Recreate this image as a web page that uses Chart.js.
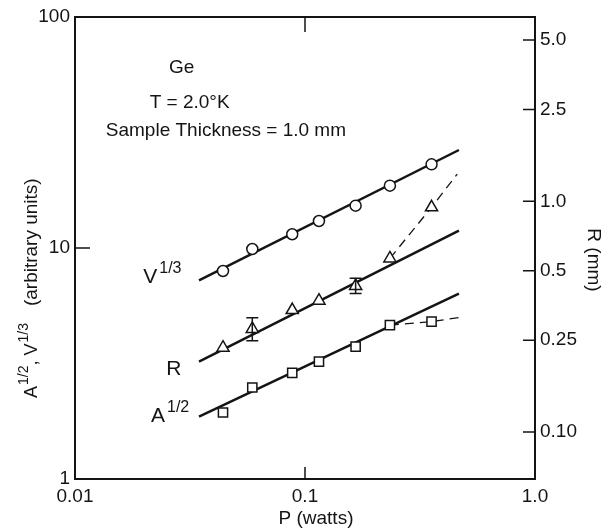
<!DOCTYPE html>
<html lang="en">
<head>
    <title>Ge - A^1/2, V^1/3 and R versus P</title>
    <meta charset="UTF-8">
    <script src="https://cdn.jsdelivr.net/npm/chart.js"></script>
    <style>
        body {
            margin: 0;
            padding: 0;
            background-color: #fff;
        }
        .chart-box {
            width: 602px;
            height: 529px;
        }
    </style>
</head>
<body>
    <div class="chart-box"><canvas id="plot" width="602" height="529"></canvas></div>

    <script>
        // P (watts), shared by the three measured series
        const power = [0.044, 0.059, 0.088, 0.115, 0.166, 0.234, 0.355];
        const vCubeRoot = [7.95, 9.9, 11.47, 13.09, 15.25, 18.61, 23.03];
        const aSqrt = [1.94, 2.49, 2.88, 3.22, 3.74, 4.64, 4.80];
        const radiusMm = [0.232, 0.280, 0.338, 0.371, 0.430, 0.566, 0.942];
        // error bars on R (mm), only two points have them
        const radiusErrLow = [null, 0.249, null, null, 0.399, null, null];
        const radiusErrHigh = [null, 0.313, null, null, 0.464, null, null];

        // straight fits, end points only
        const fitPower = [0.0346, 0.467];
        const vFit = [7.24, 26.56];
        const rFit = [0.2022, 0.746];
        const aFit = [1.86, 6.34];

        // dashed departures at high power
        const rBendPower = [0.234, 0.355, 0.459];
        const rBend = [0.566, 0.942, 1.313];
        const aBendPower = [0.234, 0.355, 0.493];
        const aBend = [4.64, 4.80, 5.04];

        // axes
        const powerTicks = [0.01, 0.1, 1];
        const powerTickLabels = ["0.01", "0.1", "1.0"];
        const leftTicks = [1, 10, 100];
        const leftTickLabels = ["1", "10", "100"];
        const rightTicks = [0.1, 0.25, 0.5, 1, 2.5, 5];
        const rightTickLabels = ["0.10", "0.25", "0.5", "1.0", "2.5", "5.0"];

        const FONT = "'Liberation Sans', Arial, sans-serif";
        const INK = "#141414";

        function pts(xs, ys) {
            return xs.map((x, i) => ({ x: x, y: ys[i] }));
        }

        // text placed in data space: [P, left-axis value]
        const notes = [
            { text: "Ge", p: 0.0291, v: 57.2 },
            { text: "T = 2.0°K", p: 0.0315, v: 40.4 },
            { text: "Sample Thickness = 1.0 mm", p: 0.0453, v: 30.5 }
        ];
        const seriesNames = [
            { base: "V", sup: "1/3", p: 0.0198, v: 7.06 },
            { base: "R", sup: "", p: 0.0249, v: 2.82 },
            { base: "A", sup: "1/2", p: 0.0214, v: 1.765 }
        ];

        function drawRuns(ctx, runs, x, y) {
            let cx = x;
            runs.forEach(r => {
                ctx.font = r.size + "px " + FONT;
                ctx.fillText(r.text, cx, y - (r.rise || 0));
                cx += ctx.measureText(r.text).width + (r.gap || 0);
            });
        }

        const decorations = {
            id: "decorations",
            afterDraw(chart) {
                const { ctx, chartArea: a, scales } = chart;
                ctx.save();
                ctx.strokeStyle = INK;
                ctx.fillStyle = INK;

                // inward tick marks
                ctx.lineWidth = 1.5;
                ctx.beginPath();
                powerTicks.slice(1, -1).forEach(v => {
                    const x = scales.x.getPixelForValue(v);
                    ctx.moveTo(x, a.bottom); ctx.lineTo(x, a.bottom - 12);
                    ctx.moveTo(x, a.top); ctx.lineTo(x, a.top + 15);
                });
                leftTicks.slice(1, -1).forEach(v => {
                    const y = scales.y.getPixelForValue(v);
                    ctx.moveTo(a.left, y); ctx.lineTo(a.left + 15, y);
                });
                rightTicks.forEach(v => {
                    const y = scales.yR.getPixelForValue(v);
                    ctx.moveTo(a.right, y); ctx.lineTo(a.right - 12, y);
                });
                ctx.stroke();

                // error bars on R
                ctx.lineWidth = 1.5;
                ctx.beginPath();
                power.forEach((p, i) => {
                    if (radiusErrLow[i] == null) return;
                    const x = scales.x.getPixelForValue(p);
                    const y1 = scales.yR.getPixelForValue(radiusErrLow[i]);
                    const y2 = scales.yR.getPixelForValue(radiusErrHigh[i]);
                    ctx.moveTo(x, y1); ctx.lineTo(x, y2);
                    ctx.moveTo(x - 6, y1); ctx.lineTo(x + 6, y1);
                    ctx.moveTo(x - 6, y2); ctx.lineTo(x + 6, y2);
                });
                ctx.stroke();

                // notes
                ctx.textAlign = "center";
                ctx.textBaseline = "alphabetic";
                ctx.font = "19px " + FONT;
                notes.forEach(n => {
                    ctx.fillText(n.text, scales.x.getPixelForValue(n.p), scales.y.getPixelForValue(n.v));
                });

                // series names with superscripts
                ctx.textAlign = "left";
                seriesNames.forEach(s => {
                    drawRuns(ctx, [
                        { text: s.base, size: 21, gap: 2 },
                        { text: s.sup, size: 16, rise: 10 }
                    ], scales.x.getPixelForValue(s.p), scales.y.getPixelForValue(s.v));
                });

                // axis titles
                ctx.font = "19px " + FONT;
                ctx.textAlign = "center";
                ctx.fillText("P (watts)", 316, 524);

                ctx.save();
                ctx.translate(588, 260);
                ctx.rotate(Math.PI / 2);
                ctx.fillText("R (mm)", 0, 0);
                ctx.restore();

                ctx.save();
                ctx.translate(37, 398);
                ctx.rotate(-Math.PI / 2);
                ctx.textAlign = "left";
                drawRuns(ctx, [
                    { text: "A", size: 18, gap: 1 },
                    { text: "1/2", size: 14, rise: 9 },
                    { text: ", ", size: 18 },
                    { text: "V", size: 18, gap: 1 },
                    { text: "1/3", size: 14, rise: 9, gap: 17 },
                    { text: "(arbitrary units)", size: 19 }
                ], 0, 0);
                ctx.restore();

                ctx.restore();
            }
        };

        const hidden = { display: false, drawTicks: false };
        const edge = { display: true, color: INK, width: 2 };
        const tickFont = { family: FONT, size: 19 };

        new Chart(document.getElementById("plot"), {
            type: "scatter",
            data: {
                datasets: [
                    {
                        label: "V^1/3", data: pts(power, vCubeRoot), yAxisID: "y",
                        pointStyle: "circle", pointRadius: 5.5, borderColor: INK,
                        backgroundColor: "#fff", borderWidth: 1.5
                    },
                    {
                        label: "R", data: pts(power, radiusMm), yAxisID: "yR",
                        pointStyle: "triangle", pointRadius: 7, borderColor: INK,
                        backgroundColor: "#fff", borderWidth: 1.5
                    },
                    {
                        label: "A^1/2", data: pts(power, aSqrt), yAxisID: "y",
                        pointStyle: "rect", pointRadius: 6.5, borderColor: INK,
                        backgroundColor: "#fff", borderWidth: 1.5
                    },
                    {
                        label: "V fit", data: pts(fitPower, vFit), yAxisID: "y",
                        showLine: true, pointRadius: 0, borderColor: INK, borderWidth: 2.5
                    },
                    {
                        label: "R fit", data: pts(fitPower, rFit), yAxisID: "yR",
                        showLine: true, pointRadius: 0, borderColor: INK, borderWidth: 2.5
                    },
                    {
                        label: "A fit", data: pts(fitPower, aFit), yAxisID: "y",
                        showLine: true, pointRadius: 0, borderColor: INK, borderWidth: 2.5
                    },
                    {
                        label: "R bend", data: pts(rBendPower, rBend), yAxisID: "yR",
                        showLine: true, pointRadius: 0, borderColor: INK, borderWidth: 1.3,
                        borderDash: [9, 6]
                    },
                    {
                        label: "A bend", data: pts(aBendPower, aBend), yAxisID: "y",
                        showLine: true, pointRadius: 0, borderColor: INK, borderWidth: 1.3,
                        borderDash: [9, 6]
                    }
                ]
            },
            options: {
                responsive: false,
                animation: false,
                devicePixelRatio: 1,
                layout: { padding: 0 },
                plugins: {
                    legend: { display: false },
                    tooltip: { enabled: false }
                },
                scales: {
                    x: {
                        type: "logarithmic", position: "bottom", min: 0.01, max: 1,
                        afterBuildTicks: s => { s.ticks = powerTicks.map(v => ({ value: v })); },
                        afterFit: s => { s.height = 50; },
                        ticks: {
                            callback: (v, i) => powerTickLabels[i],
                            font: tickFont, color: INK, padding: 6,
                            maxRotation: 0, autoSkip: false
                        },
                        grid: hidden, border: edge
                    },
                    xTop: {
                        type: "logarithmic", position: "top", min: 0.01, max: 1,
                        afterFit: s => { s.height = 17; },
                        ticks: { display: false },
                        grid: hidden, border: edge
                    },
                    y: {
                        type: "logarithmic", position: "left", min: 1, max: 100,
                        afterBuildTicks: s => { s.ticks = leftTicks.map(v => ({ value: v })); },
                        afterFit: s => { s.width = 75; },
                        ticks: {
                            callback: (v, i) => leftTickLabels[i],
                            font: tickFont, color: INK, padding: 5
                        },
                        grid: hidden, border: edge
                    },
                    yR: {
                        type: "logarithmic", position: "right", min: 0.0626, max: 6.295,
                        afterBuildTicks: s => { s.ticks = rightTicks.map(v => ({ value: v })); },
                        afterFit: s => { s.width = 67; },
                        ticks: {
                            callback: (v, i) => rightTickLabels[i],
                            font: tickFont, color: INK, padding: 5
                        },
                        grid: hidden, border: edge
                    }
                }
            },
            plugins: [decorations]
        });
    </script>
</body>
</html>
